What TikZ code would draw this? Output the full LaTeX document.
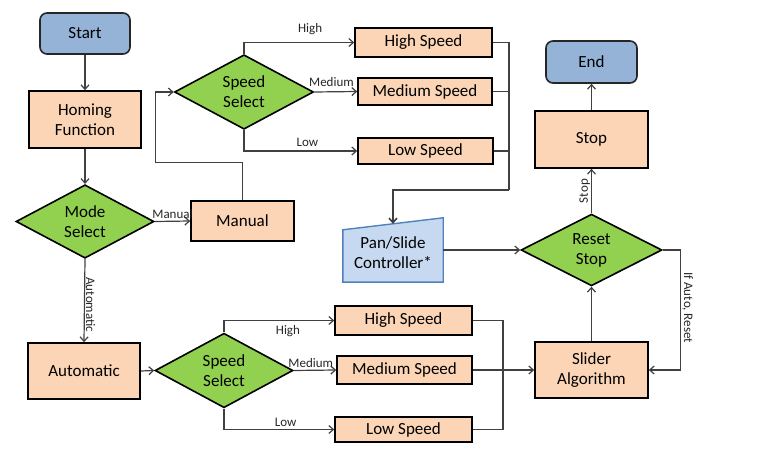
\documentclass[tikz,border=0pt]{standalone}
\usepackage{fontspec}
\setmainfont{Carlito}
\usetikzlibrary{shapes.geometric,arrows.meta,calc,backgrounds}
\definecolor{peach}{HTML}{FBD5B5}
\definecolor{leaf}{HTML}{92D050}
\definecolor{sky}{HTML}{95B3D7}
\definecolor{pale}{HTML}{C6D9F1}
\definecolor{paneledge}{HTML}{4F81BD}
\definecolor{wirec}{HTML}{404040}
\definecolor{lblc}{HTML}{262626}
\begin{document}
\begin{tikzpicture}[x=1pt,y=-1pt,
  box/.style={draw=black, line width=1.6pt, fill=peach, inner sep=0pt, align=center, font=\fontsize{17}{20}\selectfont},
  dec/.style={diamond, draw=black, line width=1.6pt, fill=leaf, inner sep=0pt, align=center, font=\fontsize{17}{20}\selectfont},
  term/.style={draw=black!85, line width=1.6pt, fill=sky, rounded corners=7pt, inner sep=0pt, align=center, font=\fontsize{17}{20}\selectfont},
  panbox/.style={inner sep=0pt, align=center, font=\fontsize{17}{20}\selectfont},
  wire/.style={draw=wirec, line width=1.2pt, -{Straight Barb[length=4.5pt,width=8pt]}},
  plainwire/.style={draw=wirec, line width=1.2pt},
  lbl/.style={font=\fontsize{13}{15}\selectfont, text=lblc, inner sep=1pt}
]
\useasboundingbox (0,0) rectangle (766,457);

% nodes
\node[term, minimum width=90pt, minimum height=41pt] (start) at (85,33.5) {Start};
\node[box, minimum width=112pt, minimum height=57pt] (home) at (85,119.5) {Homing\\Function};
\node[dec, minimum width=138pt, minimum height=69pt] (ms) at (85,221.5) {Mode\\Select};
\node[box, minimum width=103pt, minimum height=40pt] (man) at (242.5,221) {Manual};
\node[dec, minimum width=139pt, minimum height=70pt] (ss1) at (244,92) {Speed\\Select};
\node[box, minimum width=137pt, minimum height=29pt] (hs1) at (423.5,42.5) {High Speed};
\node[box, minimum width=134pt, minimum height=27pt] (ms1) at (425,91.5) {Medium Speed};
\node[box, minimum width=135pt, minimum height=26pt] (ls1) at (425.5,151) {Low Speed};
\node[panbox, minimum width=100pt, minimum height=58pt] (pan) at (393,253) {Pan/Slide\\Controller*};
\begin{scope}[on background layer]
\draw[fill=pale, draw=paneledge, line width=1.4pt] (pan.south west) -- (pan.south east) -- ($(pan.north east)+(0,-6)$) -- ($(pan.north west)+(0,6)$) -- cycle;
\end{scope}
\node[dec, minimum width=141pt, minimum height=70pt] (rs) at (591.5,250) {Reset\\Stop};
\node[box, minimum width=113pt, minimum height=57pt] (stop) at (591.5,139.5) {Stop};
\node[term, minimum width=91pt, minimum height=42pt] (endn) at (591.5,62) {End};
\node[box, minimum width=113pt, minimum height=56pt] (sa) at (591.5,370) {Slider\\Algorithm};
\node[box, minimum width=112pt, minimum height=56pt] (auto) at (84,371) {Automatic};
\node[dec, minimum width=138pt, minimum height=69pt] (ss2) at (224,370.5) {Speed\\Select};
\node[box, minimum width=137pt, minimum height=29pt] (hs2) at (403.5,320.5) {High Speed};
\node[box, minimum width=135pt, minimum height=28pt] (ms2) at (404.5,370) {Medium Speed};
\node[box, minimum width=137pt, minimum height=25pt] (ls2) at (403.5,429.5) {Low Speed};

% helper coordinates
\coordinate (bus1) at (509,190);
\coordinate (bus2) at (503,429.5);

% connectors
\draw[wire] (start) -- (home);
\draw[wire] (home) -- (ms);
\draw[wire] (ms.east) -- node[lbl, above=1pt] {Manual} (man.west);
\draw[wire] (ms.south) -- node[lbl, rotate=-90, anchor=south, pos=0.55] {Automatic} (auto.north);
\draw[wire] (man.north) -- ++(0,-38) -| ($(ss1.west)+(-18,0)$) -- (ss1.west);
\draw[wire] (ss1.north) |- node[lbl, pos=0.8, above=6pt] {High} (hs1.west);
\draw[wire] (ss1.east) -- node[lbl, above=4pt, pos=0.4] {Medium} (ms1.west);
\draw[wire] (ss1.south) |- node[lbl, pos=0.78, above=3pt] {Low} (ls1.west);
\draw[plainwire] (hs1.east) -| (bus1);
\draw[plainwire] (ms1.east) -- (ms1.east -| bus1);
\draw[plainwire] (ls1.east) -- (ls1.east -| bus1);
\draw[wire, line width=1.6pt] (bus1) -| (pan.north);
\draw[wire] (rs.west -| pan.east) -- (rs.west);
\draw[wire] (rs.north) -- node[lbl, rotate=90, anchor=south, midway] {Stop} (stop.south);
\draw[wire] (stop.north) -- (endn.south);
\draw[wire] (sa.north) -- (rs.south);
\draw[wire] (rs.east) -- ++(18,0) |- node[lbl, rotate=-90, anchor=south, pos=0.24] {If Auto, Reset} (sa.east);
\draw[wire] (auto.east) -- (ss2.west);
\draw[wire] (ss2.north) |- node[lbl, pos=0.79, below=3pt] {High} (hs2.west);
\draw[wire] (ss2.east) -- node[lbl, above=1pt, pos=0.4] {Medium} (ms2.west);
\draw[wire] (ss2.south) |- node[lbl, pos=0.78, above=1pt] {Low} (ls2.west);
\draw[plainwire] (hs2.east) -| (bus2) -- (ls2.east);
\draw[wire] (ms2.east) -- (sa.west);
\end{tikzpicture}
\end{document}
